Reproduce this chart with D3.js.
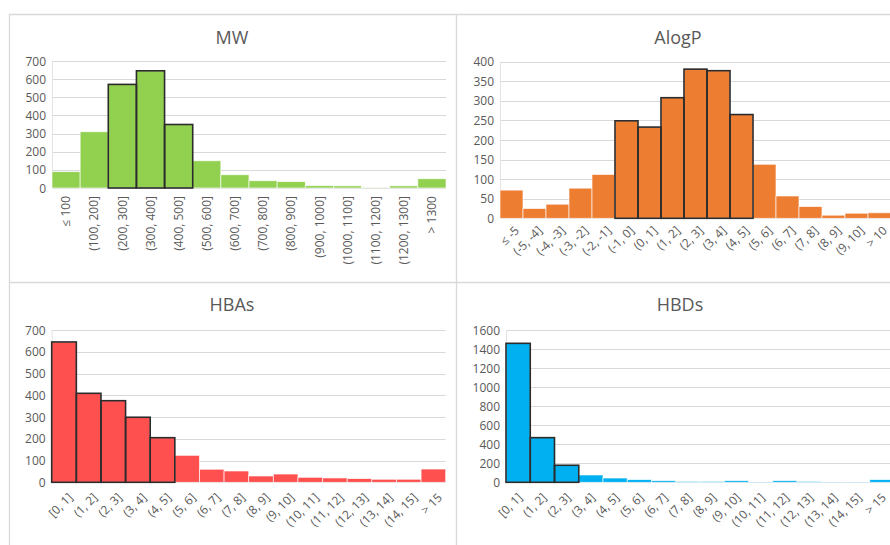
<!DOCTYPE html>
<html>
<head>
<meta charset="utf-8">
<script src="https://cdn.jsdelivr.net/npm/d3@7"></script>
<style>
  body { margin: 0; background: #fff; }
  svg text { font-family: "Open Sans", "Liberation Sans", sans-serif; fill: #595959; }
</style>
</head>
<body>
<svg id="chart" width="890" height="545"></svg>
<script>
// bins and counts
var mwBins = ["≤ 100", "(100, 200]", "(200, 300]", "(300, 400]", "(400, 500]", "(500, 600]", "(600, 700]",
  "(700, 800]", "(800, 900]", "(900, 1000]", "(1000, 1100]", "(1100, 1200]", "(1200, 1300]", "> 1300"];
var mwCounts = [90, 310, 571, 646, 350, 150, 73, 40, 35, 13, 12, 4, 12, 51];
var mwHighlight = [2, 3, 4];

var alogpBins = ["≤ -5", "(-5, -4]", "(-4, -3]", "(-3, -2]", "(-2, -1]", "(-1, 0]", "(0, 1]", "(1, 2]",
  "(2, 3]", "(3, 4]", "(4, 5]", "(5, 6]", "(6, 7]", "(7, 8]", "(8, 9]", "(9, 10]", "> 10"];
var alogpCounts = [72, 25, 36, 77, 112, 249, 233, 308, 381, 377, 265, 138, 57, 30, 8, 13, 14];
var alogpHighlight = [5, 6, 7, 8, 9, 10];

var hBins = ["[0, 1]", "(1, 2]", "(2, 3]", "(3, 4]", "(4, 5]", "(5, 6]", "(6, 7]", "(7, 8]", "(8, 9]",
  "(9, 10]", "(10, 11]", "(11, 12]", "(12, 13]", "(13, 14]", "(14, 15]", "> 15"];
var hbaCounts = [645, 409, 375, 299, 205, 124, 60, 52, 29, 38, 23, 20, 17, 14, 14, 61];
var hbaHighlight = [0, 1, 2, 3, 4];
var hbdCounts = [1460, 469, 179, 77, 45, 28, 17, 10, 10, 17, 3, 17, 10, 3, 3, 28];
var hbdHighlight = [0, 1, 2];

var svg = d3.select("#chart");

// panel frame lines
var frame = svg.append("g").attr("stroke", "#d9d9d9").attr("stroke-width", 1.3);
frame.append("line").attr("x1", 9).attr("x2", 890).attr("y1", 14.5).attr("y2", 14.5);
frame.append("line").attr("x1", 9.5).attr("x2", 9.5).attr("y1", 14).attr("y2", 545);
frame.append("line").attr("x1", 456.5).attr("x2", 456.5).attr("y1", 14).attr("y2", 545);
frame.append("line").attr("x1", 9).attr("x2", 890).attr("y1", 282.5).attr("y2", 282.5);

function histo(opt) {
  var g = svg.append("g");

  var x = d3.scaleBand()
    .domain(opt.bins)
    .range([opt.left, opt.right])
    .padding(0);

  var y = d3.scaleLinear()
    .domain([0, opt.max])
    .range([opt.bottom, opt.top]);

  g.append("text")
    .attr("x", opt.titleX)
    .attr("y", opt.titleY)
    .attr("text-anchor", "middle")
    .style("font-size", "18px")
    .text(opt.title);

  // gridlines + y labels
  var ticks = d3.range(0, opt.max + 1, opt.step);
  g.selectAll(".grid")
    .data(ticks)
    .enter().append("line")
    .attr("x1", opt.left).attr("x2", opt.right)
    .attr("y1", function(d) { return Math.round(y(d)) + 0.5; })
    .attr("y2", function(d) { return Math.round(y(d)) + 0.5; })
    .attr("stroke", "#d9d9d9")
    .attr("stroke-width", 1);

  g.append("line")
    .attr("x1", opt.left + 0.5).attr("x2", opt.left + 0.5)
    .attr("y1", y(opt.max)).attr("y2", y(0))
    .attr("stroke", "#e3e3e3");

  g.selectAll(".ylab")
    .data(ticks)
    .enter().append("text")
    .attr("x", opt.left - 6)
    .attr("y", function(d) { return y(d) + 4.5; })
    .attr("text-anchor", "end")
    .style("font-size", "12px")
    .text(function(d) { return d; });

  // bars
  g.selectAll(".bar")
    .data(opt.counts)
    .enter().append("rect")
    .attr("x", function(d, i) { return x(opt.bins[i]); })
    .attr("width", x.bandwidth())
    .attr("y", function(d) { return y(d); })
    .attr("height", function(d) { return y(0) - y(d); })
    .attr("fill", opt.color)
    .attr("stroke", "#ffffff")
    .attr("stroke-opacity", 0.8)
    .attr("stroke-width", 0.8);

  // outlined bins
  g.selectAll(".hi")
    .data(opt.highlight)
    .enter().append("rect")
    .attr("x", function(i) { return x(opt.bins[i]); })
    .attr("width", x.bandwidth())
    .attr("y", function(i) { return y(opt.counts[i]); })
    .attr("height", function(i) { return y(0) - y(opt.counts[i]); })
    .attr("fill", "none")
    .attr("stroke", "#2b2b2b")
    .attr("stroke-width", 1.6);

  // x labels
  g.selectAll(".xlab")
    .data(opt.bins)
    .enter().append("text")
    .attr("transform", function(d) {
      var cx = x(d) + x.bandwidth() / 2 + opt.labDx;
      return "translate(" + cx + "," + (opt.bottom + opt.labDy) + ") rotate(" + opt.angle + ")";
    })
    .attr("text-anchor", "end")
    .attr("dy", "0.35em")
    .style("font-size", "12px")
    .text(function(d) { return d; });
}

histo({title: "MW", titleX: 232, titleY: 44, bins: mwBins, counts: mwCounts, highlight: mwHighlight,
  color: "#92d050", left: 52, right: 446, top: 61, bottom: 188, max: 700, step: 100,
  angle: -90, labDx: 0, labDy: 8});

histo({title: "AlogP", titleX: 678, titleY: 44, bins: alogpBins, counts: alogpCounts, highlight: alogpHighlight,
  color: "#ed7d31", left: 500, right: 891, top: 61.7, bottom: 218.3, max: 400, step: 50,
  angle: -45, labDx: 5.5, labDy: 10});

histo({title: "HBAs", titleX: 232, titleY: 311, bins: hBins, counts: hbaCounts, highlight: hbaHighlight,
  color: "#ff5050", left: 51.7, right: 445.7, top: 330, bottom: 482.3, max: 700, step: 100,
  angle: -45, labDx: 6.5, labDy: 13});

histo({title: "HBDs", titleX: 680, titleY: 311, bins: hBins, counts: hbdCounts, highlight: hbdHighlight,
  color: "#00b0f0", left: 506, right: 894, top: 330, bottom: 482.3, max: 1600, step: 200,
  angle: -45, labDx: 2, labDy: 13});
</script>
</body>
</html>
